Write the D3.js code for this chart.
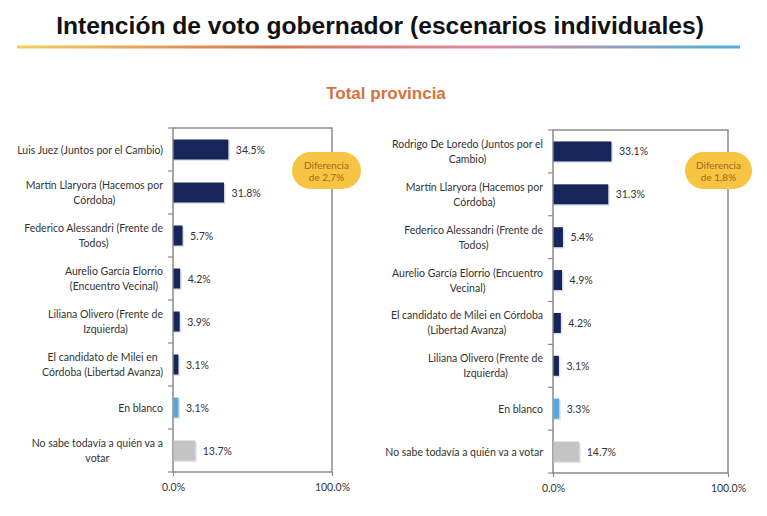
<!DOCTYPE html>
<html>
<head>
<meta charset="utf-8">
<script src="https://cdn.jsdelivr.net/npm/d3@7"></script>
<style>
  body { margin: 0; background: #fff; }
  svg { display: block; }
</style>
</head>
<body>
<svg id="chart" width="767" height="516"></svg>
<script>
// Data
var leftCategories = [
  "Luis Juez (Juntos por el Cambio)",
  "Martín Llaryora (Hacemos por\nCórdoba)",
  "Federico Alessandri (Frente de\nTodos)",
  "Aurelio García Elorrio\n(Encuentro Vecinal)",
  "Liliana Olivero (Frente de\nIzquierda)",
  "El candidato de Milei en\nCórdoba (Libertad Avanza)",
  "En blanco",
  "No sabe todavía a quién va a\nvotar"
];
var leftValues = [34.5, 31.8, 5.7, 4.2, 3.9, 3.1, 3.1, 13.7];
var leftKinds = ["cand", "cand", "cand", "cand", "cand", "cand", "blanco", "nosabe"];

var rightCategories = [
  "Rodrigo De Loredo (Juntos por el\nCambio)",
  "Martín Llaryora (Hacemos por\nCórdoba)",
  "Federico Alessandri (Frente de\nTodos)",
  "Aurelio García Elorrio (Encuentro\nVecinal)",
  "El candidato de Milei en Córdoba\n(Libertad Avanza)",
  "Liliana Olivero (Frente de\nIzquierda)",
  "En blanco",
  "No sabe todavía a quién va a votar"
];
var rightValues = [33.1, 31.3, 5.4, 4.9, 4.2, 3.1, 3.3, 14.7];
var rightKinds = leftKinds;

var axisTicks = [0, 100];
var leftNote = ["Diferencia", "de 2,7%"];
var rightNote = ["Diferencia", "de 1,8%"];

var kindColor = {cand: "#16265a", blanco: "#5aa6dc", nosabe: "#c4c4c4"};
var labelFont = "Lato, 'Open Sans', sans-serif";

var svg = d3.select("#chart");

// title + gradient rule
svg.append("text")
  .attr("x", 380).attr("y", 34)
  .attr("text-anchor", "middle")
  .style("font-family", "'Liberation Sans Narrow', 'Arial Narrow', sans-serif")
  .style("font-weight", "bold")
  .style("font-size", "24.6px")
  .style("fill", "#111")
  .text("Intención de voto gobernador (escenarios individuales)");

var grad = svg.append("defs").append("linearGradient").attr("id", "rule");
[["0%", "#f2cf5a"], ["35%", "#d9764e"], ["65%", "#e08aa6"], ["100%", "#45b4d8"]].forEach(function (s) {
  grad.append("stop").attr("offset", s[0]).attr("stop-color", s[1]);
});
svg.append("rect")
  .attr("x", 17).attr("y", 45.5).attr("width", 723).attr("height", 3)
  .attr("fill", "url(#rule)");

svg.append("text")
  .attr("x", 386).attr("y", 99)
  .attr("text-anchor", "middle")
  .style("font-family", "'Liberation Sans', Arial, sans-serif")
  .style("font-weight", "bold")
  .style("font-size", "17px")
  .style("fill", "#d4733e")
  .text("Total provincia");

function panel(opts) {
  var g = svg.append("g");
  var x = d3.scaleLinear().domain([0, 100]).range([opts.x0, opts.x1]);
  var y = d3.scaleBand().domain(d3.range(opts.cats.length)).range([opts.y0, opts.y1]);
  var barH = 20;

  // frame
  g.append("rect")
    .attr("x", opts.x0).attr("y", opts.y0)
    .attr("width", opts.x1 - opts.x0).attr("height", opts.y1 - opts.y0)
    .attr("fill", "none").attr("stroke", "#8a8a8a").attr("stroke-width", 1.5);

  // left ticks at band boundaries
  g.selectAll(".yt").data(d3.range(opts.cats.length + 1)).enter().append("line")
    .attr("x1", opts.x0 - 5).attr("x2", opts.x0)
    .attr("y1", function (i) { return opts.y0 + i * y.step(); })
    .attr("y2", function (i) { return opts.y0 + i * y.step(); })
    .attr("stroke", "#8a8a8a").attr("stroke-width", 1.2);

  // bottom axis
  var ax = g.append("g").attr("transform", "translate(0," + opts.y1 + ")")
    .call(d3.axisBottom(x).tickValues(axisTicks).tickSize(4).tickPadding(8)
      .tickFormat(function (d) { return d.toFixed(1) + "%"; }));
  ax.select(".domain").remove();
  ax.selectAll("line").attr("stroke", "#8a8a8a").attr("stroke-width", 1.2);
  ax.selectAll("text").style("font-family", labelFont).style("font-size", "10.5px").style("fill", "#333");

  // bars with slight shadow
  g.selectAll(".sh").data(opts.vals).enter().append("rect")
    .attr("x", x(0) + 1)
    .attr("y", function (d, i) { return y(i) + (y.bandwidth() - barH) / 2 + 1.5; })
    .attr("width", function (d) { return x(d) - x(0) + 1; })
    .attr("height", barH)
    .attr("fill", "#cfd6e4").attr("opacity", 0.7);
  g.selectAll(".bar").data(opts.vals).enter().append("rect")
    .attr("x", x(0) + 0.5)
    .attr("y", function (d, i) { return y(i) + (y.bandwidth() - barH) / 2; })
    .attr("width", function (d) { return x(d) - x(0); })
    .attr("height", barH)
    .attr("fill", function (d, i) { return kindColor[opts.kinds[i]]; });

  // value labels
  g.selectAll(".val").data(opts.vals).enter().append("text")
    .attr("x", function (d) { return x(d) + 8; })
    .attr("y", function (d, i) { return y(i) + y.bandwidth() / 2 + 4; })
    .style("font-family", labelFont).style("font-size", "10.5px").style("fill", "#333")
    .text(function (d) { return d.toFixed(1) + "%"; });

  // category labels: lines centred, block right-aligned to labelRight
  opts.cats.forEach(function (c, i) {
    var lines = c.split("\n");
    var t = g.append("text")
      .style("font-family", labelFont).style("font-size", "10.5px").style("fill", "#333")
      .attr("text-anchor", "middle");
    var cy = y(i) + y.bandwidth() / 2;
    var lh = 15;
    lines.forEach(function (l, k) {
      t.append("tspan").attr("y", cy + 4 + (k - (lines.length - 1) / 2) * lh).text(l);
    });
    var w = d3.max(t.selectAll("tspan").nodes(), function (n) { return n.getComputedTextLength(); });
    t.selectAll("tspan").attr("x", opts.labelRight - w / 2);
  });

  // difference badge
  var b = opts.badge;
  g.append("rect")
    .attr("x", b.x).attr("y", b.y).attr("width", b.w).attr("height", b.h)
    .attr("rx", b.h / 2).attr("fill", "#f6c544");
  opts.note.forEach(function (l, k) {
    g.append("text")
      .attr("x", b.x + b.w / 2).attr("y", b.y + b.h / 2 - 2 + k * 12)
      .attr("text-anchor", "middle")
      .style("font-family", labelFont).style("font-size", "10px").style("fill", "#b0611c")
      .text(l);
  });
}

panel({
  cats: leftCategories, vals: leftValues, kinds: leftKinds, note: leftNote,
  x0: 173, x1: 332, y0: 128, y1: 472, labelRight: 163,
  badge: {x: 292, y: 152, w: 69, h: 37}
});
panel({
  cats: rightCategories, vals: rightValues, kinds: rightKinds, note: rightNote,
  x0: 553, x1: 728, y0: 130, y1: 473, labelRight: 543,
  badge: {x: 685, y: 152, w: 67, h: 37}
});
</script>
</body>
</html>
